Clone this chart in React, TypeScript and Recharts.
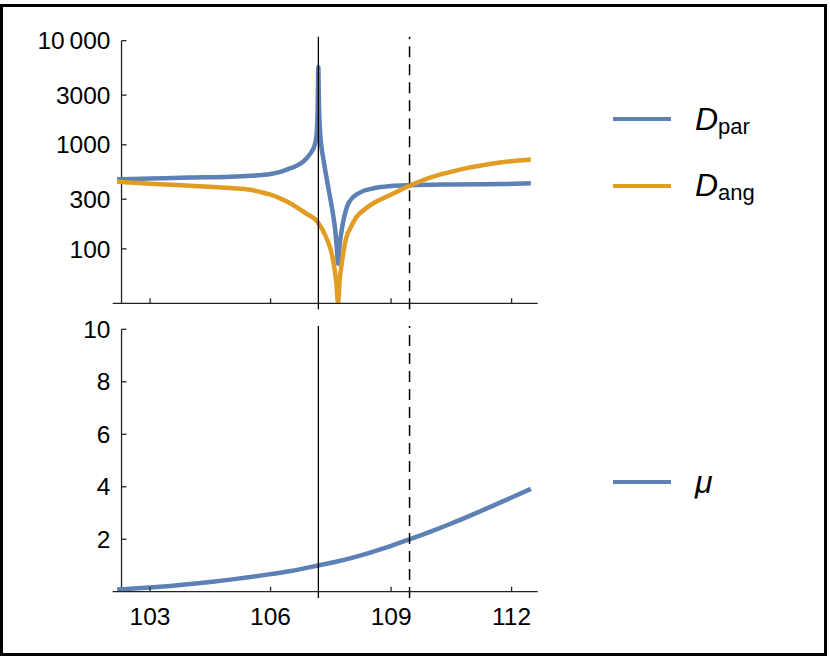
import { LineChart, Line, XAxis, YAxis, ReferenceLine, Legend } from 'recharts';

const FONT = '"Liberation Sans", Arial, Helvetica, sans-serif';
const BLUE = '#5E81B5';
const ORANGE = '#E19C24';
const AXIS = '#222';

// shared x axis
const X_DOMAIN = [102.07, 112.65];
const X_TICKS = [103, 106, 109, 112];
const Y_AXIS_AT = 102.29;
const SOLID_X = 107.19;
const DASHED_X = 109.46;

// top panel (log scale)
const D_DOMAIN = [30, 10000];
const D_TICKS = [100, 300, 1000, 3000, 10000];
const D_LINE_SPAN = [26.3, 10900];

const DPAR_X = [102.18, 103, 104, 105, 105.5, 106, 106.25, 106.5, 106.7, 106.81, 106.92, 107.02, 107.1, 107.14, 107.17, 107.19, 107.2, 107.23, 107.26, 107.31, 107.36, 107.42, 107.48, 107.55, 107.61, 107.65, 107.68, 107.71, 107.77, 107.83, 107.9, 107.98, 108.2, 108.6, 109, 109.47, 110.46, 111.71, 112.48];
const DPAR_Y = [466, 474, 484, 492, 503, 524, 550, 596, 645, 687, 760, 857, 1000, 1194, 2018, 5600, 3000, 1380, 1000, 750, 572, 420, 316, 220, 151, 100, 72, 100, 151, 200, 253, 291, 343, 384, 401, 409, 416, 419, 426];

const DANG_X = [102.18, 103, 104, 105, 105.5, 105.75, 106, 106.25, 106.5, 106.88, 107.17, 107.38, 107.54, 107.64, 107.68, 107.72, 107.77, 107.89, 108.0, 108.14, 108.33, 108.55, 108.97, 109.47, 110.05, 110.46, 110.88, 111.3, 111.71, 112.1, 112.48];
const DANG_Y = [441, 422, 404, 384, 370, 352, 332, 304, 273, 219, 182, 130, 84, 46, 30, 50, 72, 130, 162, 203, 238, 273, 328, 406, 495, 546, 597, 638, 675, 703, 724];

// bottom panel
const MU_DOMAIN = [0, 10];
const MU_TICKS = [2, 4, 6, 8, 10];
const MU_LINE_SPAN = [-0.24, 10.13];
const MU_X = [102.18, 102.6, 103, 103.5, 104, 104.5, 105, 105.5, 106, 106.5, 107.19, 107.6, 108, 108.5, 109, 109.47, 110, 110.5, 111, 111.5, 112, 112.48];
const MU_Y = [0.08, 0.12, 0.16, 0.22, 0.29, 0.37, 0.46, 0.56, 0.67, 0.79, 1.0, 1.13, 1.28, 1.5, 1.75, 2.0, 2.3, 2.6, 2.92, 3.25, 3.59, 3.92];

const LEGEND_ORDER = ['Dpar', 'Dang', 'mu'];
const LEGEND_TEXT: Record<string, [string, string]> = {
  Dpar: ['D', 'par'],
  Dang: ['D', 'ang'],
  mu: ['\u03bc', ''],
};

const zip = (xs: number[], ys: number[]) => xs.map((x, i) => ({ x, v: ys[i] }));

const dparData = zip(DPAR_X, DPAR_Y);
const dangData = zip(DANG_X, DANG_Y);
const muData = zip(MU_X, MU_Y);

const AXIS_SHIFT = 8.8; // y axis sits inside the plot, the x axis starts a bit left of it

const fmtD = (v: number) => (v === 10000 ? '10\u2009000' : String(v));

function makeYTick(fmt: (v: number) => string) {
  return (props: any) => {
    const { x, y, payload } = props;
    const ax = x + AXIS_SHIFT;
    return (
      <g>
        <line x1={ax} x2={ax + 5} y1={y} y2={y} stroke={AXIS} strokeWidth={1.3} />
        <text
          x={ax - 11}
          y={y}
          dy="0.355em"
          textAnchor="end"
          fontSize={24.5}
          fontFamily={FONT}
          fill="#000"
        >
          {fmt(payload.value)}
        </text>
      </g>
    );
  };
}

function LegendBox(props: any) {
  const items = [...(props.payload || [])].sort(
    (a: any, b: any) => LEGEND_ORDER.indexOf(a.value) - LEGEND_ORDER.indexOf(b.value),
  );
  return (
    <div>
      {items.map((e: any) => {
        const [main, sub] = LEGEND_TEXT[e.value] || [e.value, ''];
        return (
          <div key={e.value} style={{ position: 'relative', height: 66.7 }}>
            <span
              style={{
                position: 'absolute',
                left: 0,
                top: 31.35,
                width: 58.3,
                height: 4,
                background: e.color,
              }}
            />
            <div
              style={{
                position: 'absolute',
                left: 82.3,
                top: 0,
                lineHeight: '66.7px',
                whiteSpace: 'nowrap',
                fontFamily: FONT,
                color: '#000',
              }}
            >
              <span style={{ fontSize: 32, fontStyle: 'italic' }}>{main}</span>
              {sub && (
                <span style={{ fontSize: 22, lineHeight: 1, position: 'relative', top: 4 }}>{sub}</span>
              )}
            </div>
          </div>
        );
      })}
    </div>
  );
}

export default function App() {
  return (
    <div
      style={{
        position: 'absolute',
        left: 0,
        top: 0,
        width: 830,
        height: 664,
        background: '#fff',
        overflow: 'hidden',
      }}
    >
      <div
        style={{
          position: 'absolute',
          left: 0,
          top: 4,
          width: 827,
          height: 652,
          border: '3px solid #000',
          boxSizing: 'border-box',
        }}
      />

      <div style={{ position: 'absolute', left: 0, top: 0 }}>
        <LineChart
          width={830}
          height={320}
          margin={{ top: 40.7, right: 292.3, bottom: 15.7, left: 111.7 }}
        >
          <XAxis
            type="number"
            dataKey="x"
            domain={X_DOMAIN}
            ticks={X_TICKS}
            allowDataOverflow
            height={1}
            interval={0}
            tickSize={-5}
            tick={() => <g />}
            stroke={AXIS}
            strokeWidth={1.3}
          />
          <YAxis
            type="number"
            scale="log"
            domain={D_DOMAIN}
            ticks={D_TICKS}
            allowDataOverflow
            width={1}
            interval={0}
            axisLine={false}
            tickLine={false}
            tickSize={0}
            tickMargin={0}
            tick={makeYTick(fmtD)}
          />
          <ReferenceLine
            segment={[{ x: Y_AXIS_AT, y: D_DOMAIN[0] }, { x: Y_AXIS_AT, y: D_DOMAIN[1] }]}
            stroke={AXIS}
            strokeWidth={1.3}
            ifOverflow="visible"
          />
          <Line
            data={dparData}
            dataKey="v"
            name="Dpar"
            type="monotone"
            stroke={BLUE}
            strokeWidth={4.5}
            dot={false}
            isAnimationActive={false}
          />
          <Line
            data={dangData}
            dataKey="v"
            name="Dang"
            type="monotone"
            stroke={ORANGE}
            strokeWidth={4.5}
            dot={false}
            isAnimationActive={false}
          />
          <ReferenceLine
            segment={[{ x: SOLID_X, y: D_LINE_SPAN[0] }, { x: SOLID_X, y: D_LINE_SPAN[1] }]}
            stroke="#000"
            strokeWidth={1.3}
            ifOverflow="visible"
          />
          <ReferenceLine
            segment={[{ x: DASHED_X, y: D_LINE_SPAN[0] }, { x: DASHED_X, y: D_LINE_SPAN[1] }]}
            stroke="#000"
            strokeWidth={1.5}
            strokeDasharray="11 7"
            ifOverflow="visible"
          />
          <Legend
            layout="vertical"
            align="center"
            verticalAlign="middle"
            content={<LegendBox />}
            wrapperStyle={{ position: 'absolute', left: 612.7, top: 85.6, width: 210, height: 134 }}
          />
        </LineChart>
      </div>

      <div style={{ position: 'absolute', left: 0, top: 300 }}>
        <LineChart
          width={830}
          height={364}
          margin={{ top: 29.3, right: 292.3, bottom: 71.3, left: 111.7 }}
        >
          <XAxis
            type="number"
            dataKey="x"
            domain={X_DOMAIN}
            ticks={X_TICKS}
            allowDataOverflow
            height={1}
            interval={0}
            tickSize={-5}
            tickMargin={21}
            tick={{ fontSize: 24.5, fill: '#000', fontFamily: FONT }}
            stroke={AXIS}
            strokeWidth={1.3}
          />
          <YAxis
            type="number"
            domain={MU_DOMAIN}
            ticks={MU_TICKS}
            allowDataOverflow
            width={1}
            interval={0}
            axisLine={false}
            tickLine={false}
            tickSize={0}
            tickMargin={0}
            tick={makeYTick(String)}
          />
          <ReferenceLine
            segment={[{ x: Y_AXIS_AT, y: MU_DOMAIN[0] }, { x: Y_AXIS_AT, y: MU_DOMAIN[1] }]}
            stroke={AXIS}
            strokeWidth={1.3}
            ifOverflow="visible"
          />
          <Line
            data={muData}
            dataKey="v"
            name="mu"
            type="monotone"
            stroke={BLUE}
            strokeWidth={4.5}
            dot={false}
            isAnimationActive={false}
          />
          <ReferenceLine
            segment={[{ x: SOLID_X, y: MU_LINE_SPAN[0] }, { x: SOLID_X, y: MU_LINE_SPAN[1] }]}
            stroke="#000"
            strokeWidth={1.3}
            ifOverflow="visible"
          />
          <ReferenceLine
            segment={[{ x: DASHED_X, y: MU_LINE_SPAN[0] }, { x: DASHED_X, y: MU_LINE_SPAN[1] }]}
            stroke="#000"
            strokeWidth={1.5}
            strokeDasharray="11 7"
            ifOverflow="visible"
          />
          <Legend
            layout="vertical"
            align="center"
            verticalAlign="middle"
            content={<LegendBox />}
            wrapperStyle={{ position: 'absolute', left: 612.7, top: 148.95, width: 210, height: 67 }}
          />
        </LineChart>
      </div>
    </div>
  );
}
